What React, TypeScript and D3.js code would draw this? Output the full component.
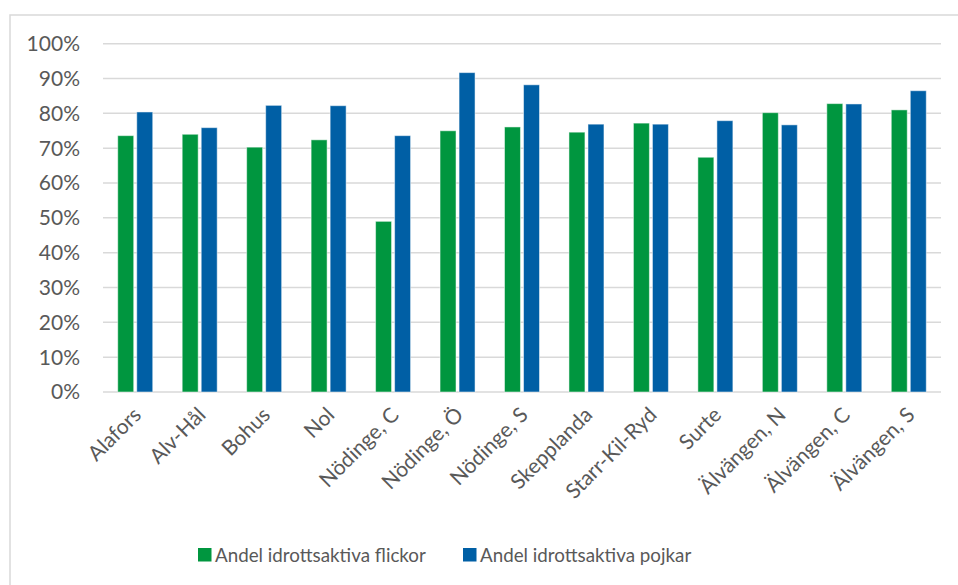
import React from "react";
import * as d3 from "d3";

const categories = [
  "Alafors", "Alv-Hål", "Bohus", "Nol", "Nödinge, C", "Nödinge, Ö", "Nödinge, S",
  "Skepplanda", "Starr-Kil-Ryd", "Surte", "Älvängen, N", "Älvängen, C", "Älvängen, S",
];
const flickor = [73.6, 74.0, 70.3, 72.4, 49.0, 75.0, 76.1, 74.6, 77.2, 67.4, 80.2, 82.8, 81.0];
const pojkar = [80.4, 75.9, 82.3, 82.2, 73.6, 91.7, 88.2, 76.9, 76.9, 77.9, 76.7, 82.7, 86.5];
const seriesNames = ["Andel idrottsaktiva flickor", "Andel idrottsaktiva pojkar"];
const seriesColors = ["#00963F", "#005FA5"];
const yTicks = [0, 10, 20, 30, 40, 50, 60, 70, 80, 90, 100];

const W = 958;
const H = 585;
const FONT = "Lato, sans-serif";

export default function App() {
  const x0 = d3.scaleBand<string>().domain(categories).range([103, 941]).paddingInner(0.457).paddingOuter(0.2285);
  const x1 = d3.scaleBand<string>().domain(seriesNames).range([0, x0.bandwidth()]).paddingInner(0.16);
  const y = d3.scaleLinear().domain([0, 100]).range([392, 43.7]);
  const data = [flickor, pojkar];

  return (
    <svg width={W} height={H} style={{ position: "absolute", left: 0, top: 0, background: "#fff" }}>
      <rect x={10} y={15} width={W + 20} height={H + 20} fill="#fff" stroke="#d9d9d9" strokeWidth={1.5} />
      {yTicks.map((t) => (
        <g key={t}>
          <line x1={103} x2={941} y1={y(t)} y2={y(t)} stroke="#d9d9d9" strokeWidth={1.5} />
          <text x={80} y={y(t)} dy="0.35em" textAnchor="end" fontFamily={FONT} fontSize={21} fill="#595959">
            {t}%
          </text>
        </g>
      ))}
      {categories.map((c, i) => (
        <g key={c} transform={`translate(${x0(c)},0)`}>
          {seriesNames.map((s, k) => (
            <rect
              key={s}
              x={x1(s)}
              y={y(data[k][i])}
              width={x1.bandwidth()}
              height={y(0) - y(data[k][i])}
              fill={seriesColors[k]}
              stroke="#ffffff"
              strokeOpacity={0.5}
              strokeWidth={1}
            />
          ))}
        </g>
      ))}
      {categories.map((c) => {
        const cx = (x0(c) as number) + x0.bandwidth() / 2;
        return (
          <text
            key={c}
            transform={`translate(${cx + 2},${411}) rotate(-45)`}
            textAnchor="end"
            dy="0.35em"
            fontFamily={FONT}
            fontSize={21}
            fill="#595959"
          >
            {c}
          </text>
        );
      })}
      {seriesNames.map((s, k) => {
        const lx = k === 0 ? 198 : 463;
        return (
          <g key={s}>
            <rect x={lx} y={548} width={13.5} height={13.5} fill={seriesColors[k]} />
            <text x={lx + 17} y={561.5} fontFamily={FONT} fontSize={18.8} fill="#595959">
              {s}
            </text>
          </g>
        );
      })}
    </svg>
  );
}
